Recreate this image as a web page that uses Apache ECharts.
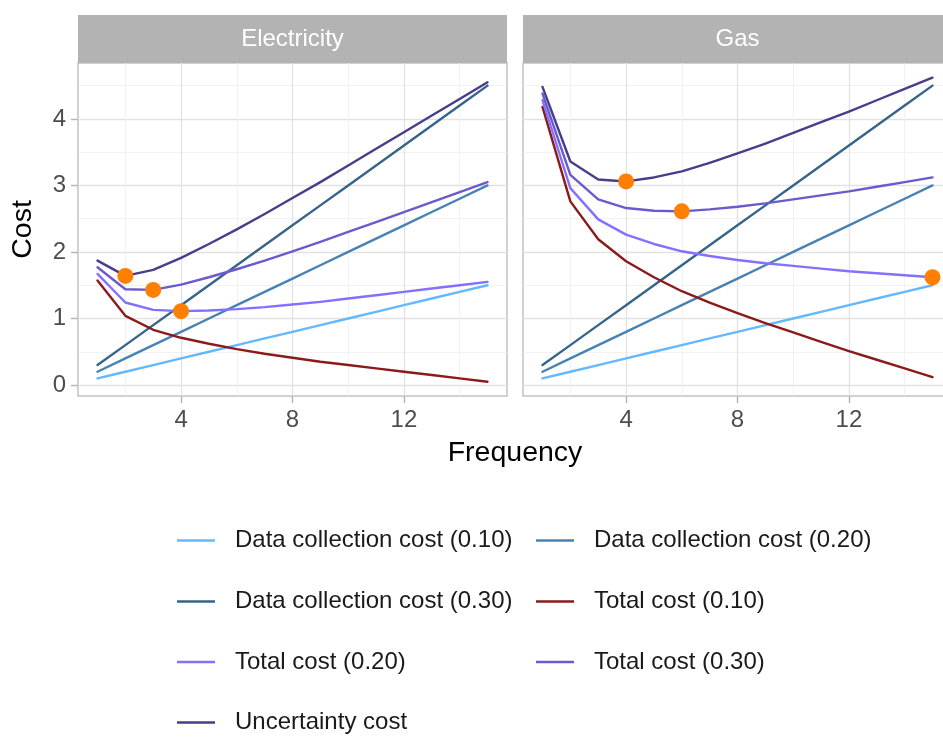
<!DOCTYPE html>
<html>
<head>
<meta charset="utf-8">
<script src="https://cdn.jsdelivr.net/npm/echarts@6/dist/echarts.min.js"></script>
<style>
html,body{margin:0;padding:0;background:#fff;}
#chart{width:943px;height:737px;}
</style>
</head>
<body>
<div id="chart"></div>
<script>
// ---------------- data ----------------
const frequency = [1,2,3,4,5,6,7,8,9,10,11,12,13,14,15];
const panels = ['Electricity', 'Gas'];
const seriesNames = [
  'Data collection cost (0.10)', 'Data collection cost (0.20)', 'Data collection cost (0.30)',
  'Total cost (0.10)', 'Total cost (0.20)', 'Total cost (0.30)', 'Uncertainty cost'
];
const xTicks = [4, 8, 12];
const xMinorTicks = [2, 6, 10, 14];
const yTicks = [0, 1, 2, 3, 4];
const yMinorTicks = [0.5, 1.5, 2.5, 3.5, 4.5];

// Electricity panel
const elecDC010 = [0.1,0.2,0.3,0.4,0.5,0.6,0.7,0.8,0.9,1.0,1.1,1.2,1.3,1.4,1.5];
const elecDC020 = [0.2,0.4,0.6,0.8,1.0,1.2,1.4,1.6,1.8,2.0,2.2,2.4,2.6,2.8,3.0];
const elecDC030 = [0.3,0.6,0.9,1.2,1.5,1.8,2.1,2.4,2.7,3.0,3.3,3.6,3.9,4.2,4.5];
const elecTot010 = [1.57,1.04,0.83,0.71,0.62,0.54,0.47,0.41,0.35,0.30,0.25,0.20,0.15,0.10,0.05];
const elecTot020 = [1.67,1.24,1.13,1.11,1.12,1.14,1.17,1.21,1.25,1.30,1.35,1.40,1.45,1.50,1.55];
const elecTot030 = [1.77,1.44,1.43,1.51,1.62,1.74,1.87,2.01,2.15,2.30,2.45,2.60,2.75,2.90,3.05];
const elecUnc = [1.87,1.64,1.73,1.91,2.12,2.34,2.57,2.81,3.05,3.30,3.55,3.80,4.05,4.30,4.55];
const elecOptFreq = [2, 3, 4];
const elecOptCost = [1.64, 1.43, 1.11];

// Gas panel
const gasDC010 = [0.1,0.2,0.3,0.4,0.5,0.6,0.7,0.8,0.9,1.0,1.1,1.2,1.3,1.4,1.5];
const gasDC020 = [0.2,0.4,0.6,0.8,1.0,1.2,1.4,1.6,1.8,2.0,2.2,2.4,2.6,2.8,3.0];
const gasDC030 = [0.3,0.6,0.9,1.2,1.5,1.8,2.1,2.4,2.7,3.0,3.3,3.6,3.9,4.2,4.5];
const gasTot010 = [4.18,2.76,2.19,1.86,1.62,1.41,1.24,1.08,0.93,0.79,0.65,0.51,0.38,0.25,0.12];
const gasTot020 = [4.28,2.96,2.49,2.26,2.12,2.01,1.94,1.88,1.83,1.79,1.75,1.71,1.68,1.65,1.62];
const gasTot030 = [4.38,3.16,2.79,2.66,2.62,2.61,2.64,2.68,2.73,2.79,2.85,2.91,2.98,3.05,3.12];
const gasUnc = [4.48,3.36,3.09,3.06,3.12,3.21,3.34,3.48,3.63,3.79,3.95,4.11,4.28,4.45,4.62];
const gasOptFreq = [4, 6, 15];
const gasOptCost = [3.06, 2.61, 1.62];

// ---------------- styles ----------------
const colors = ['#63B8FF', '#4682B4', '#36648B', '#8B1A1A', '#8470FF', '#6A5ACD', '#483D8B'];
const FONT = 'Liberation Sans, Arial, sans-serif';
const panelData = [
  [elecDC010, elecDC020, elecDC030, elecTot010, elecTot020, elecTot030, elecUnc],
  [gasDC010, gasDC020, gasDC030, gasTot010, gasTot020, gasTot030, gasUnc]
];
const optData = [[elecOptFreq, elecOptCost], [gasOptFreq, gasOptCost]];

const gridLeft = [78, 523];
const gridTop = 63, gridW = 429, gridH = 333;
const xMin = 0.3, xMax = 15.7, yMin = -0.165, yMax = 4.84;

const grids = gridLeft.map(l => ({
  left: l, top: gridTop, width: gridW, height: gridH,
  show: true, borderColor: '#c2c2c2', borderWidth: 1.5, backgroundColor: 'transparent',
  containLabel: false, outerBoundsMode: 'none'
}));

const xAxes = [], yAxes = [];
// minor axes (index 0,1)
[0, 1].forEach(i => {
  xAxes.push({
    type: 'value', gridIndex: i, min: xMin, max: xMax, position: 'top',
    axisLine: { show: false, onZero: false },
    axisTick: { show: false, customValues: xMinorTicks },
    axisLabel: { show: false, customValues: xMinorTicks },
    splitLine: { show: true, lineStyle: { color: '#efefef', width: 0.8 } }
  });
  yAxes.push({
    type: 'value', gridIndex: i, min: yMin, max: yMax, position: 'right',
    axisLine: { show: false, onZero: false },
    axisTick: { show: false, customValues: yMinorTicks },
    axisLabel: { show: false, customValues: yMinorTicks },
    splitLine: { show: true, lineStyle: { color: '#efefef', width: 0.8 } }
  });
});
// major axes (index 2,3)
[0, 1].forEach(i => {
  xAxes.push({
    type: 'value', gridIndex: i, min: xMin, max: xMax, position: 'bottom',
    axisLine: { show: false, onZero: false },
    axisTick: { show: true, length: 7, lineStyle: { color: '#b3b3b3', width: 1.4 }, customValues: xTicks },
    axisLabel: { show: true, customValues: xTicks, fontSize: 24, color: '#4d4d4d', margin: 12, fontFamily: FONT },
    splitLine: { show: true, lineStyle: { color: '#e2e2e2', width: 1.3 } }
  });
  yAxes.push({
    type: 'value', gridIndex: i, min: yMin, max: yMax, position: 'left',
    axisLine: { show: false, onZero: false },
    axisTick: { show: i === 0, length: 7, lineStyle: { color: '#b3b3b3', width: 1.4 }, customValues: yTicks },
    axisLabel: { show: i === 0, customValues: yTicks, fontSize: 24, color: '#4d4d4d', margin: 12, fontFamily: FONT },
    splitLine: { show: true, lineStyle: { color: '#e2e2e2', width: 1.3 } }
  });
});

const series = [];
[0, 1].forEach(p => {
  panelData[p].forEach((arr, s) => {
    series.push({
      type: 'line', name: seriesNames[s],
      xAxisIndex: 2 + p, yAxisIndex: 2 + p,
      data: frequency.map((f, k) => [f, arr[k]]),
      showSymbol: false, symbol: 'none', silent: true,
      lineStyle: { color: colors[s], width: 2.4, join: 'round', cap: 'round' },
      itemStyle: { color: colors[s] },
      z: 2 + s * 0.01
    });
  });
  series.push({
    type: 'scatter', name: 'Optimal',
    xAxisIndex: 2 + p, yAxisIndex: 2 + p,
    data: optData[p][0].map((f, k) => [f, optData[p][1][k]]),
    symbolSize: 16, itemStyle: { color: '#FF7F00', opacity: 1 }, silent: true, z: 5
  });
});

// legend (ncol = 2, filled by row)
const legendRowY = [540.5, 601.5, 662, 722.5];
const legendColKeyX = [177, 536];
const legends = seriesNames.map((name, k) => {
  const row = Math.floor(k / 2), col = k % 2;
  return {
    left: legendColKeyX[col], top: legendRowY[row] - 12,
    data: [name], icon: 'rect', itemWidth: 38, itemHeight: 2.6,
    padding: 0, selectedMode: false,
    textStyle: { fontSize: 24, lineHeight: 24, color: '#1a1a1a', fontFamily: FONT, padding: [0, 0, 0, 15] }
  };
});

const graphics = [];
panels.forEach((name, i) => {
  graphics.push({ type: 'rect', shape: { x: gridLeft[i], y: 15, width: gridW, height: 48 }, style: { fill: '#b3b3b3' }, silent: true });
  graphics.push({ type: 'text', x: gridLeft[i] + gridW / 2, y: 39, silent: true,
    style: { text: name, fill: '#ffffff', fontSize: 24, fontFamily: FONT, textAlign: 'center', textVerticalAlign: 'middle' } });
});
graphics.push({ type: 'text', x: 515, y: 453, silent: true,
  style: { text: 'Frequency', fill: '#000000', fontSize: 28.5, fontFamily: FONT, textAlign: 'center', textVerticalAlign: 'middle' } });
graphics.push({ type: 'text', x: 23, y: 229.5, rotation: Math.PI / 2, silent: true,
  style: { text: 'Cost', fill: '#000000', fontSize: 28.5, fontFamily: FONT, textAlign: 'center', textVerticalAlign: 'middle' } });

const chart = echarts.init(document.getElementById('chart'), null, { renderer: 'canvas' });
chart.setOption({
  animation: false,
  backgroundColor: '#ffffff',
  grid: grids,
  xAxis: xAxes,
  yAxis: yAxes,
  legend: legends,
  series: series,
  graphic: graphics
});
</script>
</body>
</html>
